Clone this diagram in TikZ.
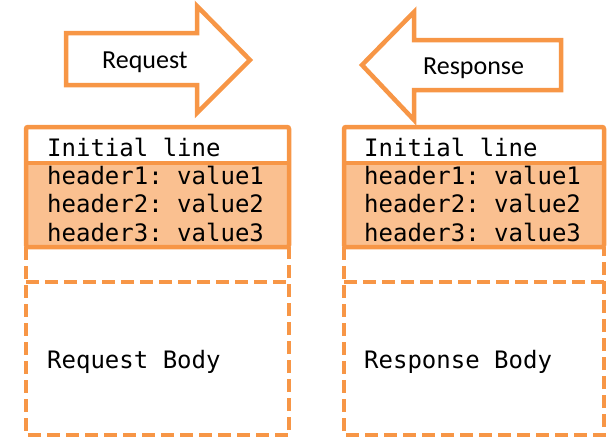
\documentclass[tikz,border=0pt]{standalone}
\usepackage{fontspec}
\setmainfont{Carlito}
\setmonofont{DejaVu Sans Mono}
\definecolor{orangeline}{HTML}{F79646}
\definecolor{orangefill}{HTML}{FAC090}
\begin{document}
\begin{tikzpicture}[x=1pt,y=-1pt,
  frame/.style={draw=orangeline, line width=4.5pt},
  dashframe/.style={draw=orangeline, line width=4.5pt, dash pattern=on 13pt off 6pt},
  arrowshape/.style={draw=orangeline, line width=4.5pt, fill=white, line join=miter},
  biglabel/.style={font=\fontsize{26}{30}\selectfont, inner sep=0, anchor=base west},
  mono/.style={font=\ttfamily\fontsize{24}{28}\selectfont, anchor=base west, inner sep=0}]
\useasboundingbox (0,0) rectangle (608,439);

% arrows
\draw[arrowshape] (66,33) -- (197,33) -- (197,6) -- (250,60) -- (197,113) -- (197,85) -- (66,85) -- cycle;
\node[biglabel] (req) at (102,68) {Request};
\draw[arrowshape] (561,40) -- (414,40) -- (414,12) -- (362,65) -- (414,120) -- (414,90) -- (561,90) -- cycle;
\node[biglabel] (resp) at (423,74) {Response};

% boxes
\foreach \xa/\xb/\nm in {26/289/l, 344/604/r}{
  \fill[orangefill] (\xa,163) rectangle (\xb,247);
  \draw[dashframe] (\xa,247) -- (\xa,435) -- (\xb,435) -- (\xb,247);
  \draw[dashframe] (\xa,282) -- (\xb,282);
  \draw[frame, rounded corners=2pt] (\xa,127) rectangle (\xb,247);
  \draw[frame] (\xa,163) -- (\xb,163);
}

\node[mono] (linit) at (47,156) {Initial line};
\node[mono] (lh1) at (47,184) {header1: value1};
\node[mono] (lh2) at (47,212.5) {header2: value2};
\node[mono] (lh3) at (47,241) {header3: value3};
\node[mono] (lbody) at (47,368) {Request Body};

\node[mono] (rinit) at (364,156) {Initial line};
\node[mono] (rh1) at (364,184) {header1: value1};
\node[mono] (rh2) at (364,212.5) {header2: value2};
\node[mono] (rh3) at (364,241) {header3: value3};
\node[mono] (rbody) at (364,368) {Response Body};
\end{tikzpicture}
\end{document}
